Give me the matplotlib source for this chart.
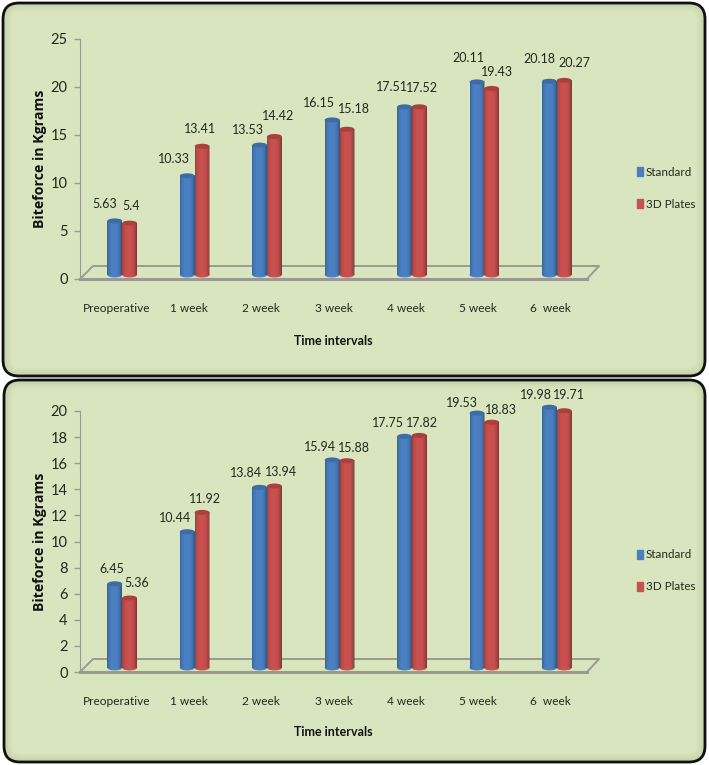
import matplotlib
matplotlib.use("Agg")
import numpy as np
import matplotlib.pyplot as plt
from matplotlib.patches import Ellipse, FancyBboxPatch, Patch

# Data
categories = ["Preoperative", "1 week", "2 week", "3 week", "4 week", "5 week", "6  week"]
top_standard = [5.63, 10.33, 13.53, 16.15, 17.51, 20.11, 20.18]
top_plates = [5.4, 13.41, 14.42, 15.18, 17.52, 19.43, 20.27]
bottom_standard = [6.45, 10.44, 13.84, 15.94, 17.75, 19.53, 19.98]
bottom_plates = [5.36, 11.92, 13.94, 15.88, 17.82, 18.83, 19.71]
series_names = ["Standard", "3D Plates"]
top_ticks = [0, 5, 10, 15, 20, 25]
bottom_ticks = [0, 2, 4, 6, 8, 10, 12, 14, 16, 18, 20]
ylabel_text = "Biteforce in Kgrams"
xlabel_text = "Time intervals"

W, H = 709, 765
BLUE = "#4a80c2"
RED = "#c8504f"
BLUE_TOP = "#3d6ca6"
RED_TOP = "#a9403e"
BG = "#d9e5bf"
GRAY = "#9a9a90"
TEXT = "#1f2a1f"
FONT = ["Lato", "DejaVu Sans"]

fig = plt.figure(figsize=(W / 100, H / 100), dpi=100, facecolor="white")
bg = fig.add_axes([0, 0, 1, 1], zorder=0)
bg.set_xlim(0, W)
bg.set_ylim(H, 0)
bg.axis("off")


def panel(x0, y0, x1, y1):
    # black outline, then darker rim fading into the green
    bg.add_patch(FancyBboxPatch((x0, y0), x1 - x0, y1 - y0, boxstyle="round,pad=0,rounding_size=16",
                                fc="#c4d0a8", ec="#111111", lw=2))
    for i, c in enumerate(["#cad6ae", "#d0dcb4", "#d4e0b9", BG]):
        d = 2 + i * 2
        bg.add_patch(FancyBboxPatch((x0 + d, y0 + d), x1 - x0 - 2 * d, y1 - y0 - 2 * d,
                                    boxstyle=f"round,pad=0,rounding_size={max(16 - d, 4)}", fc=c, ec="none"))


def chart(top_px, zero_px, vals_a, vals_b, ticks, base_units, xlabel_y, legend_y, off_a, off_b):
    left, right = 80, 587
    ax = fig.add_axes([left / W, 1 - zero_px / H, (right - left) / W, (zero_px - top_px) / H], zorder=2)
    ax.patch.set_visible(False)
    n = len(categories)
    unit_y = (zero_px - top_px) / ticks[-1]
    unit_x = (right - left) / n

    # floor of the 3d plot
    fx = [left, left + 13, 599, right, left]
    fy = [zero_px, zero_px - 13, zero_px - 13, zero_px, zero_px]
    bg.plot(fx, fy, color=GRAY, lw=1.4, zorder=1)
    bg.plot([left, right], [zero_px, zero_px], color=GRAY, lw=2.2, zorder=1)

    w = 14.8 / unit_x
    shift = 6 / unit_x
    x = np.arange(n)
    grad = np.abs(np.linspace(-0.85, 1, 40)) ** 3
    shade = np.zeros((1, 40, 4))
    shade[..., 3] = grad * 0.35
    styles = ((vals_a, BLUE, BLUE_TOP, off_a), (vals_b, RED, RED_TOP, off_b))
    for k, (vals, col, top_col, offs) in enumerate(styles):
        xs = x + shift + (k - 0.5) * w
        order = 3 + k
        ax.bar(xs, vals, w, bottom=base_units, color=col, zorder=order, clip_on=False)
        eh = 5 / unit_y
        for b, v, (dx, dy) in zip(xs, vals, offs):
            ax.add_patch(Ellipse((b, base_units), w, eh, fc=col, ec="none", zorder=order, clip_on=False))
            ax.imshow(shade, extent=(b - w / 2, b + w / 2, base_units, base_units + v),
                      aspect="auto", zorder=order + 0.1, clip_on=False)
            ax.add_patch(Ellipse((b, base_units + v), w, eh, fc=top_col, ec="none", zorder=order + 0.2, clip_on=False))
            ax.annotate(f"{v:g}", (b, base_units + v), xytext=(dx, dy), textcoords="offset pixels",
                        ha="center", va="center", fontsize=9, family=FONT, color=TEXT, zorder=8,
                        annotation_clip=False)
    ax.set_xlim(-0.5, n - 0.5)
    ax.set_ylim(0, ticks[-1])

    ax.set_yticks(ticks)
    ax.set_xticks(x)
    ax.set_xticklabels(categories, family=FONT, fontsize=8.6, color=TEXT)
    ax.tick_params(axis="x", length=0, pad=17)
    ax.tick_params(axis="y", length=4, color=GRAY, width=1, pad=5, labelsize=10.5, labelcolor=TEXT)
    for t in ax.get_yticklabels():
        t.set_family(FONT)
    for s in ["top", "right", "bottom"]:
        ax.spines[s].set_visible(False)
    ax.spines["left"].set_color(GRAY)

    bg.text(40, (top_px + zero_px) / 2, ylabel_text, rotation=90, ha="center", va="center",
            fontsize=10.2, fontweight="bold", family="Open Sans", color="#111111", zorder=3)
    bg.text(333, xlabel_y, xlabel_text, ha="center", va="center", fontsize=9,
            fontweight="bold", family=FONT, color="#111111", zorder=3)
    leg = ax.legend([Patch(color=BLUE), Patch(color=RED)], series_names, frameon=False,
                    loc="center left", bbox_to_anchor=(631 / W, 1 - legend_y / H), bbox_transform=fig.transFigure,
                    prop={"family": FONT, "size": 8.4}, handlelength=0.55, handleheight=0.9,
                    handletextpad=0.2, labelspacing=1.8, borderpad=0)
    for t in leg.get_texts():
        t.set_color(TEXT)


panel(3, 3, 705, 376)
panel(4, 380, 705, 762)

# label nudges from the bar tops, in pixels
top_off_a = [(-10, 17), (-13, 17), (-12, 15), (-13, 17), (-13, 20), (-9, 24), (-10, 22)]
top_off_b = [(2, 17), (-2, 17), (4, 21), (7, 20), (3, 19), (5, 16), (10, 17)]
bot_off_a = [(-3, 15), (-12, 14), (-14, 14), (-12, 13), (-17, 13), (-15, 10), (-13, 12)]
bot_off_b = [(7, 15), (3, 13), (7, 14), (7, 13), (3, 12), (9, 12), (5, 16)]

chart(39, 279, top_standard, top_plates, top_ticks, 0.42, 341, 188, top_off_a, top_off_b)
chart(411, 672, bottom_standard, bottom_plates, bottom_ticks, 0.31, 732, 571, bot_off_a, bot_off_b)

fig.savefig("out.png", dpi=100, facecolor="white")
